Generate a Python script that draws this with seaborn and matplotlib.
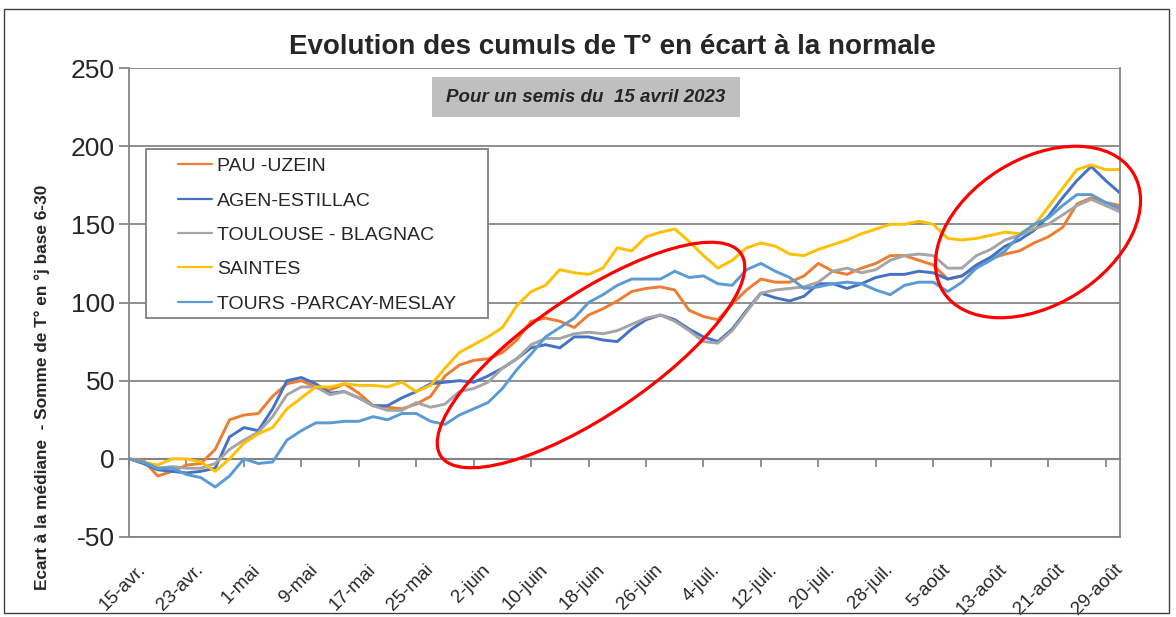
import numpy as np
import pandas as pd
import matplotlib
matplotlib.use('Agg')
import matplotlib.pyplot as plt
import matplotlib.transforms as mtransforms
from matplotlib.patches import Ellipse, Rectangle
import seaborn as sns

# jours depuis le semis (15 avril), un point tous les 2 jours
days = list(range(0, 139, 2))

pau = [0, -1, -11, -8, -4, -3, 6, 25, 28, 29,
       40, 48, 50, 46, 44, 48, 42, 34, 33, 32,
       35, 40, 53, 60, 63, 64, 68, 76, 88, 90,
       88, 84, 92, 96, 101, 107, 109, 110, 108, 95,
       91, 89, 99, 108, 115, 113, 113, 117, 125, 120,
       118, 122, 125, 130, 130, 127, 124, 115, 117, 123,
       128, 131, 133, 138, 142, 148, 163, 167, 164, 162]
agen = [0, -3, -7, -8, -9, -8, -6, 14, 20, 18,
        32, 50, 52, 48, 42, 43, 39, 34, 34, 39,
        43, 48, 49, 50, 49, 53, 58, 64, 71, 73,
        71, 78, 78, 76, 75, 83, 89, 92, 89, 83,
        78, 75, 83, 95, 106, 103, 101, 104, 112, 112,
        109, 112, 116, 118, 118, 120, 119, 115, 117, 124,
        129, 136, 140, 146, 155, 167, 178, 187, 178, 170]
toulouse = [0, -2, -6, -5, -6, -6, -3, 6, 12, 17,
            27, 41, 46, 46, 41, 43, 39, 34, 31, 31,
            36, 33, 35, 43, 45, 49, 58, 64, 73, 77,
            77, 80, 81, 80, 82, 86, 90, 92, 88, 82,
            75, 74, 82, 94, 106, 108, 109, 110, 113, 120,
            122, 119, 121, 127, 130, 131, 130, 122, 122, 130,
            134, 140, 143, 147, 150, 156, 162, 166, 162, 158]
saintes = [0, -2, -4, 0, 0, -2, -8, 0, 10, 16,
           20, 32, 39, 46, 46, 48, 47, 47, 46, 49,
           43, 47, 58, 68, 73, 78, 84, 98, 107, 111,
           121, 119, 118, 122, 135, 133, 142, 145, 147, 139,
           130, 122, 127, 135, 138, 136, 131, 130, 134, 137,
           140, 144, 147, 150, 150, 152, 150, 141, 140, 141,
           143, 145, 144, 149, 161, 173, 185, 188, 185, 185]
tours = [0, -2, -6, -6, -10, -12, -18, -11, 0, -3,
         -2, 12, 18, 23, 23, 24, 24, 27, 25, 29,
         29, 24, 22, 28, 32, 36, 45, 57, 67, 78,
         84, 90, 100, 105, 111, 115, 115, 115, 120, 116,
         117, 112, 111, 121, 125, 120, 116, 109, 110, 112,
         113, 112, 108, 105, 111, 113, 113, 107, 113, 122,
         127, 133, 143, 150, 154, 162, 169, 169, 164, 160]

stations = ['PAU -UZEIN', 'AGEN-ESTILLAC', 'TOULOUSE - BLAGNAC',
            'SAINTES', 'TOURS -PARCAY-MESLAY']
colors = ['#ED7D31', '#4472C4', '#A5A5A5', '#FFC000', '#5B9BD5']

tick_days = list(range(0, 137, 8))
tick_labels = ['15-avr.', '23-avr.', '1-mai', '9-mai', '17-mai', '25-mai',
               '2-juin', '10-juin', '18-juin', '26-juin', '4-juil.', '12-juil.',
               '20-juil.', '28-juil.', '5-août', '13-août', '21-août', '29-août']

df = pd.DataFrame({'jour': days, stations[0]: pau, stations[1]: agen,
                   stations[2]: toulouse, stations[3]: saintes, stations[4]: tours})
df = df.melt(id_vars='jour', var_name='station', value_name='ecart')

sns.set_style('white')
plt.rcParams['font.family'] = ['Liberation Sans', 'DejaVu Sans']
plt.rcParams['axes.unicode_minus'] = False

grid_c = '#868686'
fig = plt.figure(figsize=(11.76, 6.17), dpi=100)
ax = fig.add_axes([129 / 1176, 1 - 537 / 617, 991 / 1176, 469 / 617])

sns.lineplot(data=df, x='jour', y='ecart', hue='station', hue_order=stations,
             palette=colors, linewidth=2.1, ax=ax, zorder=2)

ax.set_xlim(0, 138)
ax.set_ylim(-50, 250)
ax.set_yticks(range(-50, 251, 50))
ax.yaxis.grid(True, color=grid_c, lw=1.3)
ax.set_xlabel('')
ax.set_ylabel('')
for s in ['left', 'right', 'bottom']:
    ax.spines[s].set_color(grid_c)
    ax.spines[s].set_linewidth(1.3)
ax.spines['top'].set_visible(False)
ax.tick_params(axis='y', left=True, length=7, width=1.3, color=grid_c,
               labelsize=19, pad=3)

ax.set_xticks(tick_days)
ax.set_xticklabels(tick_labels, rotation=45, ha='right', va='top',
                   rotation_mode='anchor', fontsize=13.5)
ax.tick_params(axis='x', bottom=False, pad=14)
shift = mtransforms.ScaledTranslation(0.08, 0, fig.dpi_scale_trans)
for lab in ax.get_xticklabels():
    lab.set_transform(lab.get_transform() + shift)

# axe des catégories posé sur y = 0
sec = ax.secondary_xaxis(50 / 300)
sec.set_xticks(tick_days)
sec.tick_params(axis='x', length=6, width=1.3, color=grid_c, labelbottom=False)
sec.spines['bottom'].set_color('#707070')
sec.spines['bottom'].set_linewidth(1.5)

# légende dans un cadre blanc
handles, labels = ax.get_legend_handles_labels()
ax.add_patch(Rectangle((0.0172, 0.467), 0.3451, 0.3603, transform=ax.transAxes,
                       facecolor='white', edgecolor='#7f7f7f', lw=1.3, zorder=4))
leg = ax.legend(handles, labels, loc='upper left', bbox_to_anchor=(0.0494, 0.809),
                frameon=False, fontsize=14, handlelength=1.75, handletextpad=0.25,
                labelspacing=0.86, borderpad=0, borderaxespad=0)
leg.set_zorder(5)
for h in leg.legend_handles:
    h.set_linewidth(1.6)

# encadré gris
ax.add_patch(Rectangle((0.306, 0.8955), 0.3105, 0.0855, transform=ax.transAxes,
                       facecolor='#BFBFBF', edgecolor='none', zorder=4))
ax.text(0.461, 0.938, 'Pour un semis du  15 avril 2023', transform=ax.transAxes,
        ha='center', va='center', fontsize=13.5, fontweight='bold',
        fontstyle='italic', zorder=5)

fig.text(0.521, 1 - 47 / 617, 'Evolution des cumuls de T° en écart à la normale',
         ha='center', va='center', fontsize=20, fontweight='bold')
fig.text(42 / 1176, 1 - 387 / 617,
         'Ecart à la médiane  - Somme de T° en °j base 6-30',
         rotation=90, ha='center', va='center', fontsize=12.4, fontweight='bold')

# ellipses rouges
for cx, cy, w, h, ang in [(5.91, 2.62, 3.62, 1.2, 34), (10.38, 3.85, 2.24, 1.46, 32)]:
    fig.add_artist(Ellipse((cx, cy), w, h, angle=ang, transform=fig.dpi_scale_trans,
                           fill=False, edgecolor='#FF0000', lw=2.3, zorder=10))

# cadre extérieur
fig.add_artist(Rectangle((4 / 1176, 4 / 617), 1165 / 1176, 604 / 617,
                         transform=fig.transFigure, fill=False,
                         edgecolor='#404040', lw=1.0))

fig.savefig('out.png', dpi=100)
